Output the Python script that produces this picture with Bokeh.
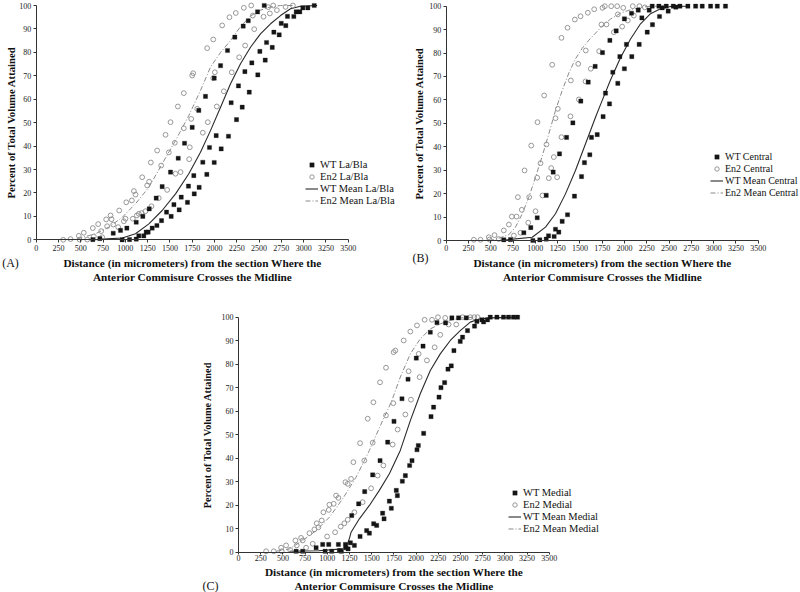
from bokeh.plotting import figure
from bokeh.layouts import column, row
from bokeh.models import Spacer, Label, FixedTicker, Range1d
from bokeh.embed import file_html
from bokeh.resources import INLINE

x_ticks = [0, 250, 500, 750, 1000, 1250, 1500, 1750, 2000, 2250, 2500, 2750, 3000, 3250, 3500]
y_ticks = [0, 10, 20, 30, 40, 50, 60, 70, 80, 90, 100]
x_title = "Distance (in micrometers) from the section Where the\nAnterior Commisure Crosses the Midline"
y_title = "Percent of Total Volume Attained"

# ---------------- Panel A : La/Bla ----------------
a_names = ["WT La/Bla", "En2 La/Bla", "WT Mean La/Bla", "En2 Mean La/Bla"]
a_wt_x = [635, 714, 864, 946, 1017, 964, 1047, 1122, 1122, 1151, 1196, 1207, 1234, 1256, 1268, 1301, 1346, 1354,
          1413, 1406, 1462, 1507, 1514, 1545, 1593, 1604, 1627, 1664, 1697, 1708, 1750, 1768, 1773, 1828, 1824,
          1869, 1899, 1914, 1944, 1997, 1997, 2019, 2068, 2075, 2146, 2157, 2187, 2228, 2247, 2269, 2311, 2322,
          2341, 2379, 2390, 2419, 2483, 2486, 2509, 2558, 2569, 2584, 2648, 2666, 2726, 2749, 2800, 2819, 2890,
          2917, 2957, 2991, 3047, 3119]
a_wt_y = [0.1, 0.5, 2.8, 4, 5, 0, 0.1, 0.3, 7.5, 1.7, 10, 1.7, 3.3, 3.3, 13.2, 5, 17.8, 6.1,
          22.7, 8.2, 11.8, 28.9, 10, 15, 34.8, 12.8, 18.2, 41.2, 16, 22.9, 48, 27.4, 19.6, 22.4, 55.2,
          33.1, 61.2, 27.9, 39.4, 33, 69, 44.5, 74.3, 38.8, 80.8, 44.2, 58.5, 86.5, 51.3, 65.7, 56.6, 91.2,
          71.8, 93.5, 63, 75.5, 97.3, 70.4, 80.4, 100, 76.7, 84.2, 82.1, 88.6, 87.5, 92.4, 91.4, 95.4, 95.3,
          97.3, 97.3, 99, 99, 100]
a_en2_x = [303, 385, 478, 486, 534, 572, 635, 646, 695, 729, 740, 785, 796, 834, 845, 864, 920, 931, 983, 1002,
           1010, 1073, 1084, 1096, 1114, 1129, 1151, 1181, 1189, 1226, 1245, 1267, 1286, 1293, 1357, 1375, 1402,
           1451, 1469, 1488, 1507, 1555, 1563, 1589, 1619, 1656, 1656, 1716, 1723, 1739, 1750, 1761, 1806, 1869,
           1918, 1925, 1986, 1986, 2004, 2026, 2086, 2105, 2168, 2194, 2239, 2277, 2329, 2344, 2412, 2430, 2446,
           2550, 2603, 2621, 2659, 2700, 2797, 2879]
a_en2_y = [0, 0.3, 1.7, 0.1, 3, 0.1, 5, 1.4, 6.7, 3.7, 1.1, 8.7, 5.8, 10.4, 8.8, 6.5, 5.4, 12.5, 7.9, 9,
           16, 16.8, 9, 20.8, 19.3, 10.4, 11.1, 11.4, 26.7, 12.2, 23.2, 24.8, 33, 14.3, 38.1, 17.8, 31.7,
           44.8, 21.3, 37.3, 50.2, 41.4, 28.2, 56.9, 28.9, 62.6, 47.6, 34.4, 39.5, 51.6, 70.1, 71.1, 55.9, 45.7,
           81.8, 50.2, 69, 85.5, 71.5, 56.9, 91.5, 63.4, 95, 71.5, 96.8, 77.9, 99, 82.9, 100, 95.7, 89.9,
           95.2, 99.3, 96.6, 100, 98, 99.4, 100]
a_wt_mean_x = [650, 740, 965, 1114, 1264, 1413, 1563, 1712, 1843, 1955, 2068, 2180, 2292, 2404, 2516, 2629,
               2741, 2853, 2965, 3152]
a_wt_mean_y = [0, 0.3, 0.8, 2.6, 6.8, 12.5, 19.6, 28.2, 37.4, 46.6, 56.6, 66.6, 75.1, 82.2, 87.9, 92.2,
               95.7, 98.6, 99.7, 100]
a_en2_mean_x = [350, 441, 665, 815, 965, 1114, 1264, 1413, 1563, 1712, 1843, 1955, 2068, 2180, 2292, 2404,
                2516, 2629, 2741, 2880]
a_en2_mean_y = [0, 0.2, 2.6, 5.4, 9.6, 15.4, 22.4, 32.4, 42.4, 53, 63.7, 73.7, 80, 85, 91, 95.5,
                98, 99.4, 100, 100]

# ---------------- Panel B : Central ----------------
b_names = ["WT Central", "En2 Central", "WT Mean Central", "En2 Mean Central"]
b_wt_x = [646, 721, 871, 949, 1021, 972, 1050, 1122, 1122, 1148, 1211, 1226, 1263, 1200, 1271, 1301, 1350, 1361,
          1421, 1439, 1510, 1518, 1551, 1593, 1611, 1630, 1671, 1694, 1760, 1753, 1787, 1832, 1869, 1925, 1948,
          1836, 1907, 1999, 2022, 1999, 2079, 2082, 2154, 2165, 2195, 2255, 2277, 2314, 2393, 2423, 2490, 2576,
          2311, 2386, 2468, 2547, 2622, 2711, 2798, 2872, 2966, 3041, 3133]
b_wt_y = [0.3, 0.4, 3.3, 5.5, 9.7, 0, 0.3, 0.6, 19.3, 2, 1.7, 4.8, 3.6, 29.2, 37, 8.2, 44, 11,
          50.2, 18.9, 59.5, 27.3, 33.2, 67.6, 36.6, 44, 74.3, 45.2, 52.9, 80.2, 62.9, 58.3, 71.8, 67.1, 78.5,
          85.4, 89.5, 73.3, 83.7, 94.6, 97, 78.5, 98.3, 83.7, 95, 88.9, 98.3, 92.1, 95.6, 99.3, 97.9, 99.6,
          100, 100, 100, 100, 100, 100, 100, 100, 100, 100, 100]
b_en2_x = [310, 385, 478, 486, 542, 590, 646, 703, 736, 759, 789, 804, 834, 848, 879, 920, 931, 954, 1002, 1021,
           1024, 1058, 1080, 1099, 1125, 1151, 1178, 1189, 1207, 1226, 1245, 1252, 1293, 1293, 1361, 1398, 1394,
           1443, 1488, 1481, 1507, 1563, 1566, 1589, 1622, 1660, 1716, 1742, 1753, 1779, 1798, 1851, 1881, 1918,
           1925, 1974, 1986, 2037, 2093, 2105, 2168, 2228]
b_en2_y = [0.3, 0.3, 1.4, 0.4, 2.3, 0.6, 4.3, 6.8, 10.2, 2.1, 10.2, 18.5, 3.3, 13.1, 29.9, 7.6, 18.5, 40.5, 12.5, 26.8,
           50.5, 33, 19.2, 61.9, 41, 26.6, 30.9, 75, 35.6, 52.2, 27, 56.2, 86.5, 44.1, 90.8, 68.3, 53,
           94.3, 60.2, 75.4, 95.7, 67.9, 81.1, 97.2, 73.3, 98.7, 80.8, 92.2, 99.3, 100, 92.2, 100, 88.9, 100,
           96.5, 91.3, 99.3, 93.9, 100, 96, 100, 99.5]
b_wt_mean_x = [600, 965, 1114, 1226, 1338, 1450, 1563, 1675, 1731, 1843, 1955, 2068, 2180, 2292, 2404, 2516, 2700]
b_wt_mean_y = [0, 1.4, 5.7, 11.4, 19.9, 29.9, 41.3, 52.6, 58, 68.5, 78, 86, 92.5, 96.8, 98.9, 99.9, 100]
b_en2_mean_x = [480, 553, 703, 777, 853, 927, 1002, 1077, 1151, 1226, 1301, 1376, 1450, 1525, 1600, 1675, 1750,
                1843, 1955, 2068, 2180, 2300, 2500]
b_en2_mean_y = [0, 0.5, 2.5, 5.7, 11.4, 18.5, 27, 36, 45.5, 55.5, 64, 71.5, 77.5, 82, 85.5, 88.5, 91.5,
                94.5, 97, 98.5, 99.5, 100, 100]

# ---------------- Panel C : Medial ----------------
c_names = ["WT Medial", "En2 Medial", "WT Mean Medial", "En2 Mean Medial"]
c_wt_x = [649, 723, 874, 948, 1016, 975, 1050, 1125, 1136, 1159, 1204, 1211, 1234, 1260, 1305, 1275, 1353, 1369,
          1421, 1443, 1474, 1511, 1522, 1556, 1594, 1623, 1639, 1680, 1699, 1721, 1751, 1777, 1789, 1841, 1845,
          1879, 1909, 1927, 1954, 2002, 2010, 2025, 2078, 2085, 2160, 2168, 2197, 2235, 2258, 2280, 2321, 2332,
          2359, 2396, 2403, 2426, 2478, 2497, 2523, 2565, 2579, 2658, 2685, 2741, 2760, 2804, 2835, 2910, 2984,
          3041, 3097, 3142]
c_wt_y = [0.4, 0.4, 1.9, 3.3, 3.3, 0.4, 0.4, 3.3, 0.7, 0.4, 3.3, 1.9, 1.4, 4, 2.9, 15.6, 20.6, 6.7,
          25.8, 9.2, 8.1, 32.9, 12.1, 11.4, 39, 16.6, 14.2, 46.8, 21.7, 18.7, 55.7, 26.3, 24.1, 65.3, 30.2,
          32.6, 73.6, 36.9, 39, 82.6, 43.6, 45.4, 87.7, 50.6, 93.6, 57.7, 61.7, 97.7, 66, 70, 72.2, 97.6,
          77.9, 79.3, 99.7, 85.8, 99.7, 89.7, 91.5, 99.7, 94.3, 96.2, 98.2, 98.9, 98, 98.9, 100, 100, 100,
          100, 100, 100]
c_en2_x = [311, 397, 480, 487, 536, 581, 641, 656, 705, 723, 761, 799, 836, 855, 881, 900, 937, 956, 998, 1016,
           1024, 1072, 1088, 1099, 1125, 1151, 1192, 1204, 1230, 1230, 1268, 1294, 1305, 1369, 1398, 1417, 1455,
           1493, 1519, 1511, 1567, 1594, 1631, 1661, 1661, 1736, 1747, 1743, 1766, 1792, 1860, 1879, 1916, 1942,
           1935, 2010, 2029, 2040, 2096, 2122, 2179, 2209, 2246, 2272, 2328, 2366, 2452, 2523, 2610, 2655, 2692]
c_en2_y = [0.4, 0.4, 1.9, 0.4, 2.9, 1, 5, 2.9, 6.1, 5, 1.9, 8.1, 3.6, 9.7, 12.3, 10.6, 13.5, 17, 6.7, 18,
           20.2, 20.6, 8.5, 24.1, 23.1, 10.9, 12.3, 29.8, 29.1, 13.8, 31.2, 38.3, 17, 46.4, 21.3, 39, 56.8,
           27.2, 63.8, 46.6, 32.6, 72.3, 36.9, 78.5, 58.2, 45.8, 85.1, 63.4, 85.8, 52.2, 90.1, 58.6, 77, 64.9,
           93.9, 96.5, 84.4, 74.5, 98.9, 81.6, 98.9, 87.2, 100, 92.5, 99.7, 96.9, 96.9, 100, 100, 100, 100]
c_wt_mean_x = [574, 900, 1173, 1230, 1250, 1268, 1361, 1474, 1586, 1699, 1822, 1935, 2047, 2160, 2272, 2385,
               2497, 2610, 2722, 2835, 3160]
c_wt_mean_y = [0.4, 0.6, 1.4, 3.6, 6, 8.5, 14.2, 19.9, 26.3, 33.4, 43.3, 56, 67.4, 77.3, 84.4, 90.1,
               94.3, 97.9, 99.3, 99.7, 100]
c_en2_mean_x = [424, 574, 723, 874, 1024, 1173, 1324, 1474, 1623, 1722, 1822, 1935, 2047, 2160, 2272, 2385,
                2497, 2650]
c_en2_mean_y = [0.4, 1.4, 5, 9.2, 14.9, 22.7, 31.9, 43.3, 56, 64, 74.5, 84.4, 90.8, 95, 97.2, 98.6,
                99.7, 100]

FONT = "Liberation Serif"


def panel(tag, names, wt_x, wt_y, en_x, en_y, wm_x, wm_y, em_x, em_y, geom):
    W, H = geom["size"]
    x0, xs = geom["x0"], geom["xs"]      # pixel of x=0 from left, pixels per unit
    y0, ys = geom["y0"], geom["ys"]      # pixel of y=0 from top, pixels per unit
    p = figure(width=W, height=H,
               min_border_left=0, min_border_right=0, min_border_top=0, min_border_bottom=0,
               x_range=Range1d(-x0 / xs, (W - x0) / xs),
               y_range=Range1d(-(H - y0) / ys, y0 / ys),
               output_backend="svg", toolbar_location=None,
               background_fill_color="white", border_fill_color="white")
    p.outline_line_color = None
    p.grid.visible = False

    p.line(wm_x, wm_y, line_color="#2a2a2a", line_width=1.1, legend_label=names[2])
    p.line(em_x, em_y, line_color="#8a8a8a", line_width=1.0, line_dash="5 2 1 2",
           legend_label=names[3])
    p.scatter(en_x, en_y, marker="circle", size=4.8, fill_color=None,
              line_color="#8c8c8c", line_width=0.9, legend_label=names[1])
    p.scatter(wt_x, wt_y, marker="square", size=4.2, fill_color="#151515",
              line_color="#151515", line_width=0.3, legend_label=names[0])

    for ax in (p.xaxis[0], p.yaxis[0]):
        ax.fixed_location = 0
        ax.axis_line_color = "#333333"
        ax.axis_line_width = 1
        ax.major_tick_line_color = "#333333"
        ax.major_tick_in = 0
        ax.minor_tick_line_color = None
        ax.major_label_text_font = FONT
        ax.major_label_text_font_size = "8px"
        ax.major_label_text_color = "#1a1a1a"
        ax.axis_label_text_font = FONT
        ax.axis_label_text_font_style = "bold"
        ax.axis_label_text_color = "#111111"

    p.xaxis.ticker = FixedTicker(ticks=x_ticks)
    p.yaxis.ticker = FixedTicker(ticks=y_ticks)
    p.xaxis.bounds = (0, 3500)
    p.yaxis.bounds = (0, 100)
    p.xaxis.axis_label = x_title
    p.yaxis.axis_label = y_title
    p.xaxis.major_tick_out = geom["xtick"][0]
    p.xaxis.major_label_standoff = geom["xtick"][1]
    p.xaxis.axis_label_standoff = geom["xtick"][2]
    p.yaxis.major_tick_out = 3
    p.yaxis.major_label_standoff = 2
    p.yaxis.axis_label_standoff = geom["ylab_standoff"]
    p.xaxis.axis_label_text_font_size = "11.3px"
    p.yaxis.axis_label_text_font_size = geom["ylab_size"]

    lg = p.legend[0]
    items = {it.label.value: it for it in lg.items}
    lg.items = [items[n] for n in names]
    lg.location = geom["legend"]
    lg.orientation = "vertical"
    lg.background_fill_alpha = 0
    lg.border_line_color = None
    lg.padding = 0
    lg.margin = 0
    lg.spacing = 1
    lg.glyph_width = 13
    lg.glyph_height = 11
    lg.label_height = 11
    lg.label_standoff = 2
    lg.label_text_font = FONT
    lg.label_text_font_size = geom["legend_size"]
    lg.label_text_color = "#111111"
    lg.label_text_baseline = "middle"

    tx, ty = geom["tag"]
    p.add_layout(Label(x=tx, y=ty, x_units="screen", y_units="screen",
                       text=tag, text_font=FONT, text_font_size="12px",
                       text_align="center", text_baseline="middle", text_color="#111111"))
    return p


geomA = dict(size=(400, 300), x0=35.7, xs=312 / 3500, y0=239.3, ys=2.343,
             xtick=(3, 2, 3), ylab_standoff=0, ylab_size="10.7px",
             legend=(305, 94), legend_size="10.5px", tag=(10, 38))
geomB = dict(size=(400, 300), x0=45.7, xs=312 / 3500, y0=240.0, ys=2.343,
             xtick=(3, 1, 3), ylab_standoff=2, ylab_size="10.7px",
             legend=(310, 102), legend_size="10px", tag=(20, 43))
geomC = dict(size=(420, 292), x0=48.0, xs=0.0888, y0=251.7, ys=2.35,
             xtick=(2, 1, 1), ylab_standoff=6, ylab_size="10.3px",
             legend=(318, 58), legend_size="10.5px", tag=(20, 7))

pA = panel("(A)", a_names, a_wt_x, a_wt_y, a_en2_x, a_en2_y, a_wt_mean_x, a_wt_mean_y,
           a_en2_mean_x, a_en2_mean_y, geomA)
pB = panel("(B)", b_names, b_wt_x, b_wt_y, b_en2_x, b_en2_y, b_wt_mean_x, b_wt_mean_y,
           b_en2_mean_x, b_en2_mean_y, geomB)
pC = panel("(C)", c_names, c_wt_x, c_wt_y, c_en2_x, c_en2_y, c_wt_mean_x, c_wt_mean_y,
           c_en2_mean_x, c_en2_mean_y, geomC)

layout = column(row(pA, pB), row(Spacer(width=190, height=10), pC))

open("out.html", "w").write(file_html(layout, INLINE))
